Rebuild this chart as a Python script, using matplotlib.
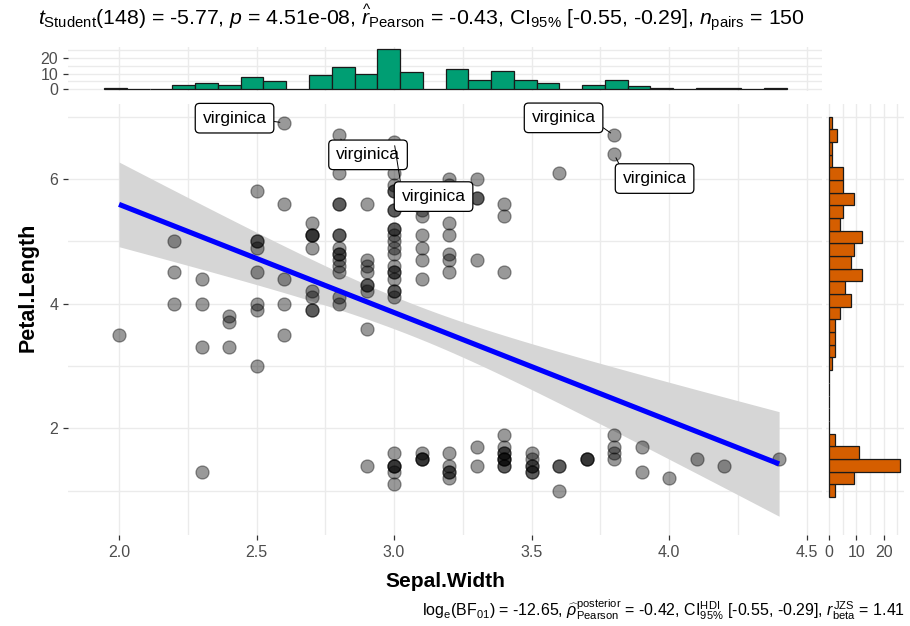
import numpy as np
import matplotlib
matplotlib.use("Agg")
import matplotlib.pyplot as plt

plt.rcParams['font.family'] = ['Liberation Sans', 'DejaVu Sans']
plt.rcParams['mathtext.fontset'] = 'custom'
plt.rcParams['mathtext.rm'] = 'Liberation Sans'
plt.rcParams['mathtext.it'] = 'Liberation Sans:italic'
plt.rcParams['mathtext.bf'] = 'Liberation Sans:bold'

# iris: Sepal.Width and Petal.Length (setosa, versicolor, virginica)
sepal_width = [
    3.5, 3.0, 3.2, 3.1, 3.6, 3.9, 3.4, 3.4, 2.9, 3.1, 3.7, 3.4, 3.0, 3.0, 4.0, 4.4, 3.9, 3.5, 3.8, 3.8,
    3.4, 3.7, 3.6, 3.3, 3.4, 3.0, 3.4, 3.5, 3.4, 3.2, 3.1, 3.4, 4.1, 4.2, 3.1, 3.2, 3.5, 3.6, 3.0, 3.4,
    3.5, 2.3, 3.2, 3.5, 3.8, 3.0, 3.8, 3.2, 3.7, 3.3,
    3.2, 3.2, 3.1, 2.3, 2.8, 2.8, 3.3, 2.4, 2.9, 2.7, 2.0, 3.0, 2.2, 2.9, 2.9, 3.1, 3.0, 2.7, 2.2, 2.5,
    3.2, 2.8, 2.5, 2.8, 2.9, 3.0, 2.8, 3.0, 2.9, 2.6, 2.4, 2.4, 2.7, 2.7, 3.0, 3.4, 3.1, 2.3, 3.0, 2.5,
    2.6, 3.0, 2.6, 2.3, 2.7, 3.0, 2.9, 2.9, 2.5, 2.8,
    3.3, 2.7, 3.0, 2.9, 3.0, 3.0, 2.5, 2.9, 2.5, 3.6, 3.2, 2.7, 3.0, 2.5, 2.8, 3.2, 3.0, 3.8, 2.6, 2.2,
    3.2, 2.8, 2.8, 2.7, 3.3, 3.2, 2.8, 3.0, 2.8, 3.0, 2.8, 3.8, 2.8, 2.8, 2.6, 3.0, 3.4, 3.1, 3.0, 3.1,
    3.1, 3.1, 2.7, 3.2, 3.3, 3.0, 2.5, 3.0, 3.4, 3.0,
]
petal_length = [
    1.4, 1.4, 1.3, 1.5, 1.4, 1.7, 1.4, 1.5, 1.4, 1.5, 1.5, 1.6, 1.4, 1.1, 1.2, 1.5, 1.3, 1.4, 1.7, 1.5,
    1.7, 1.5, 1.0, 1.7, 1.9, 1.6, 1.6, 1.5, 1.4, 1.6, 1.6, 1.5, 1.5, 1.4, 1.5, 1.2, 1.3, 1.4, 1.3, 1.5,
    1.3, 1.3, 1.3, 1.6, 1.9, 1.4, 1.6, 1.4, 1.5, 1.4,
    4.7, 4.5, 4.9, 4.0, 4.6, 4.5, 4.7, 3.3, 4.6, 3.9, 3.5, 4.2, 4.0, 4.7, 3.6, 4.4, 4.5, 4.1, 4.5, 3.9,
    4.8, 4.0, 4.9, 4.7, 4.3, 4.4, 4.8, 5.0, 4.5, 3.5, 3.8, 3.7, 3.9, 5.1, 4.5, 4.5, 4.7, 4.4, 4.1, 4.0,
    4.4, 4.6, 4.0, 3.3, 4.2, 4.2, 4.2, 4.3, 3.0, 4.1,
    6.0, 5.1, 5.9, 5.6, 5.8, 6.6, 4.5, 6.3, 5.8, 6.1, 5.1, 5.3, 5.5, 5.0, 5.1, 5.3, 5.5, 6.7, 6.9, 5.0,
    5.7, 4.9, 6.7, 4.9, 5.7, 6.0, 4.8, 4.9, 5.6, 5.8, 6.1, 6.4, 5.6, 5.1, 5.6, 6.1, 5.6, 5.5, 4.8, 5.4,
    5.6, 5.1, 5.1, 5.9, 5.7, 5.2, 5.0, 5.2, 5.4, 5.1,
]
species = ['setosa'] * 50 + ['versicolor'] * 50 + ['virginica'] * 50

subtitle = (r'$t_{\mathrm{Student}}$(148) = -5.77, $p$ = 4.51e-08, '
            r'$\widehat{r}_{\mathrm{Pearson}}$ = -0.43, CI$_{95\%}$ [-0.55, -0.29], '
            r'$n_{\mathrm{pairs}}$ = 150')
caption = (r'log$_{\mathrm{e}}$(BF$_{01}$) = -12.65, '
           r'$\widehat{\rho}_{\mathrm{Pearson}}^{\mathrm{posterior}}$ = -0.42, '
           r'CI$_{95\%}^{\mathrm{HDI}}$ [-0.55, -0.29], $r_{\mathrm{beta}}^{\mathrm{JZS}}$ = 1.41')

x = np.array(sepal_width)
y = np.array(petal_length)

GRID = '#EBEBEB'
TXT = '#4D4D4D'

W, H = 910, 626
fig = plt.figure(figsize=(W / 100, H / 100), dpi=100)


def px_axes(left, top, right, bottom):
    return fig.add_axes([left / W, 1 - bottom / H, (right - left) / W, (bottom - top) / H])


def style(ax):
    for s in ax.spines.values():
        s.set_visible(False)
    ax.set_axisbelow(True)
    ax.grid(True, which='both', color=GRID, linewidth=1.0)
    ax.tick_params(which='major', colors='#333333', labelcolor=TXT, length=3.5, width=0.9,
                   labelsize=11.5)
    ax.tick_params(which='minor', length=0)


ax = px_axes(68, 103.5, 822, 535)
ax_top = px_axes(68, 46.7, 822, 91.3)
ax_right = px_axes(825.5, 103.5, 903.5, 535)

xlim = (1.8145, 4.556)
ylim = (0.288, 7.211)

# main scatter
style(ax)
ax.set_xlim(*xlim)
ax.set_ylim(*ylim)
ax.set_xticks([2.0, 2.5, 3.0, 3.5, 4.0, 4.5])
ax.set_xticklabels(['2.0', '2.5', '3.0', '3.5', '4.0', '4.5'])
ax.set_xticks([2.25, 2.75, 3.25, 3.75, 4.25], minor=True)
ax.set_yticks([2, 4, 6])
ax.set_yticks([1, 3, 5, 7], minor=True)

# linear fit with 95% confidence band
slope, intercept = np.polyfit(x, y, 1)
n = len(x)
resid = y - (intercept + slope * x)
sigma = np.sqrt(np.sum(resid ** 2) / (n - 2))
sxx = np.sum((x - x.mean()) ** 2)
xs = np.linspace(x.min(), x.max(), 80)
fit = intercept + slope * xs
se = sigma * np.sqrt(1 / n + (xs - x.mean()) ** 2 / sxx)
tq = 1.9761
ax.fill_between(xs, fit - tq * se, fit + tq * se, color='#D6D6D6', linewidth=0, zorder=1)

ax.scatter(x, y, s=88, color='black', alpha=0.4, linewidths=0.9, zorder=2)
ax.plot(xs, fit, color='#0000FF', linewidth=3.7, zorder=3, solid_capstyle='butt')

# label the five longest petals
order = np.argsort(-y, kind='stable')[:5]
offsets = [(-49.5, 4.7), (-50.5, 17.5), (29, -19.5), (39.5, -55), (40.5, -24.5)]
anchors = [(1, 0.35), (1, 0.2), (0.14, 1), (0, 1), (0, 1)]
for idx, (dx, dy), rp in zip(order, offsets, anchors):
    ax.annotate(species[idx], xy=(x[idx], y[idx]), xytext=(dx * 0.72, dy * 0.72),
                textcoords='offset points', ha='center', va='center', fontsize=12.5,
                color='black', zorder=5,
                bbox=dict(boxstyle='round,pad=0.42,rounding_size=0.25', fc='white', ec='black', lw=0.9),
                arrowprops=dict(arrowstyle='-', color='black', lw=0.7, shrinkA=0, shrinkB=3,
                                relpos=rp))

ax.set_xlabel('Sepal.Width', fontsize=15, fontweight='bold', labelpad=9)
ax.set_ylabel('')
fig.text(28 / W, 1 - 287 / H, 'Petal.Length', rotation=90, ha='center', va='center',
         fontsize=15.5, fontweight='bold')

# marginal histogram of Sepal.Width
bw = (x.max() - x.min()) / 29
xedges = 1.946 + bw * np.arange(31)
style(ax_top)
ax_top.hist(x, bins=xedges, color='#009E73', edgecolor='#1a1a1a', linewidth=0.9, zorder=2)
ax_top.set_xlim(*xlim)
ax_top.set_ylim(-1.3, 27.3)
ax_top.set_xticks([2.0, 2.5, 3.0, 3.5, 4.0, 4.5])
ax_top.set_xticks([2.25, 2.75, 3.25, 3.75, 4.25], minor=True)
ax_top.set_yticks([0, 10, 20])
ax_top.set_yticks([5, 15, 25], minor=True)
ax_top.tick_params(axis='x', which='both', length=0, labelbottom=False)

# marginal histogram of Petal.Length
bh = (y.max() - y.min()) / 29
yedges = y.min() - bh / 2 + bh * np.arange(31)
style(ax_right)
ax_right.hist(y, bins=yedges, orientation='horizontal', color='#D55E00', edgecolor='#1a1a1a',
              linewidth=0.9, zorder=2)
ax_right.set_ylim(*ylim)
ax_right.set_xlim(-1.3, 27.3)
ax_right.set_yticks([2, 4, 6])
ax_right.set_yticks([1, 3, 5, 7], minor=True)
ax_right.set_xticks([0, 10, 20])
ax_right.set_xticks([5, 15, 25], minor=True)
ax_right.tick_params(axis='y', which='both', length=0, labelleft=False)

fig.text(38 / W, 1 - 18 / H, subtitle, ha='left', va='center', fontsize=15.3)
fig.text(905 / W, 1 - 610 / H, caption, ha='right', va='center', fontsize=11.5)

fig.savefig('out.png', dpi=100)
